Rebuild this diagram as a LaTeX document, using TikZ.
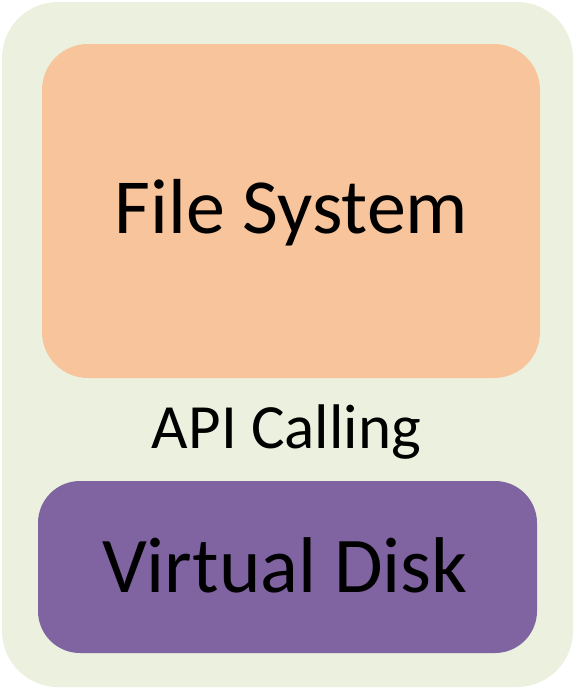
\documentclass[tikz,border=0pt]{standalone}
\usepackage{fontspec}
\setmainfont{Carlito}
\usetikzlibrary{positioning}

\definecolor{framegreen}{HTML}{EBF1DE}
\definecolor{fsorange}{HTML}{F8C49C}
\definecolor{diskpurple}{HTML}{8064A2}

\tikzset{
    layerbox/.style={draw=none, rounded corners=#1, inner sep=0pt},
    layertext/.style={anchor=base, inner sep=0pt}
}

\begin{document}
\begin{tikzpicture}[x=1pt, y=-1pt]
\useasboundingbox (0,0) rectangle (575,689);

% Outer frame
\node[layerbox=56pt, fill=framegreen, minimum width=571pt, minimum height=685pt] (frame) at (287.5,344.5) {};

% File System layer
\node[layerbox=46pt, fill=fsorange, minimum width=498pt, minimum height=334pt] (fs) at (291,211) {};
\node[layertext, font=\fontsize{78}{90}\selectfont] (fslabel) at (291.5,233) {File System};

% Calling text between the layers
\node[layertext, font=\fontsize{63}{75}\selectfont] (api) at (286.5,448) {API Calling};

% Virtual Disk layer
\node[layerbox=42pt, fill=diskpurple, minimum width=499pt, minimum height=172pt] (disk) at (287.5,567) {};
\node[layertext, font=\fontsize{79}{90}\selectfont] (disklabel) at (285,592) {Virtual Disk};

\end{tikzpicture}
\end{document}
